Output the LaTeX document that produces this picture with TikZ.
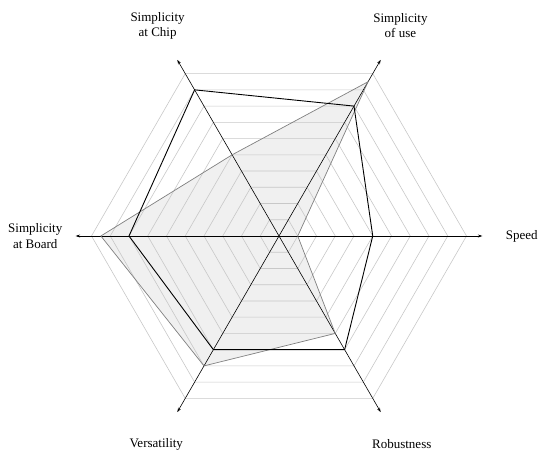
\documentclass[tikz,border=0pt]{standalone}
\usepackage{fontspec}
\setmainfont{Liberation Serif}
\usetikzlibrary{arrows.meta}
\definecolor{gridgray}{RGB}{200,200,200}
\definecolor{fillgray}{RGB}{240,240,240}
\definecolor{linegray}{RGB}{128,128,128}
\tikzset{
  gridline/.style={draw=gridgray, line width=0.6pt},
  axisline/.style={draw=black, line width=0.6pt, -{Stealth[length=4.5pt,width=3pt]}},
  blackpoly/.style={draw=black, line width=0.9pt, line join=miter},
  graypoly/.style={draw=linegray, line width=0.7pt, line join=miter},
  grayfill/.style={fill=fillgray, draw=none},
  lbl/.style={font=\fontsize{13}{15.5}\selectfont, align=center, inner sep=0pt}
}
\begin{document}
\begin{tikzpicture}[x=18.75pt, y=18.75pt]
\useasboundingbox (-279pt,-219pt) rectangle (260pt,236pt);
\coordinate (O) at (0,0);
% gray data polygon vertices
\coordinate (g1) at (0:1);
\coordinate (g2) at (60:9.5);
\coordinate (g3) at (120:5);
\coordinate (g4) at (180:9.5);
\coordinate (g5) at (240:8);
\coordinate (g6) at (300:6);
% black data polygon vertices
\coordinate (b1) at (0:5);
\coordinate (b2) at (60:8);
\coordinate (b3) at (120:9);
\coordinate (b4) at (180:8);
\coordinate (b5) at (240:7);
\coordinate (b6) at (300:7);
% fill
\fill[grayfill] (g1) -- (g2) -- (g3) -- (g4) -- (g5) -- (g6) -- cycle;
% grid
\foreach \r in {1,...,10}
  \draw[gridline] (0:\r) -- (60:\r) -- (120:\r) -- (180:\r) -- (240:\r) -- (300:\r) -- cycle;
% axes
\foreach \a/\n in {0/a1,60/a2,120/a3,180/a4,240/a5,300/a6}
  \coordinate (\n) at (\a:10.85);
\draw[axisline] (O) -- (a1);
\draw[axisline] (O) -- (a2);
\draw[axisline] (O) -- (a3);
\draw[axisline] (O) -- (a4);
\draw[axisline] (O) -- (a5);
\draw[axisline] (O) -- (a6);
% polygons
\draw[graypoly] (g1) -- (g2) -- (g3) -- (g4) -- (g5) -- (g6) -- cycle;
\draw[blackpoly] (b1) -- (b2) -- (b3) -- (b4) -- (b5) -- (b6) -- cycle;
% labels
\node[lbl] (lspeed) at (0:12.95) {Speed};
\node[lbl] (luse) at (60:12.95) {Simplicity\\of use};
\node[lbl] (lchip) at (120:12.95) {Simplicity\\at Chip};
\node[lbl] (lboard) at (180:13.0) {Simplicity\\at Board};
\node[lbl] (lvers) at (239.5:12.9) {Versatility};
\node[lbl] (lrob) at (300.5:12.9) {Robustness};
\end{tikzpicture}
\end{document}
